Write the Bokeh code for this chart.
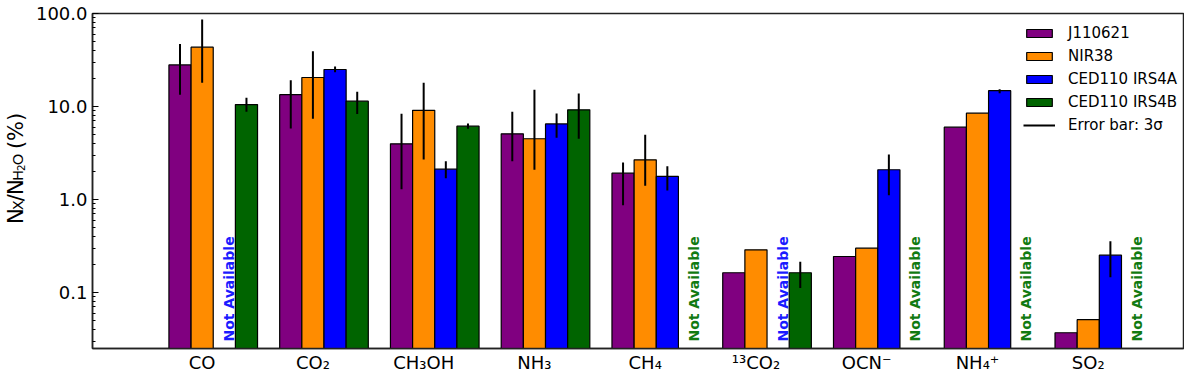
import math
from bokeh.plotting import figure
from bokeh.layouts import row
from bokeh.models import (FixedTicker, PrintfTickFormatter, Legend, LegendItem,
                          ColumnDataSource)
from bokeh.core.properties import value
from bokeh.embed import file_html
from bokeh.resources import INLINE

# ---------------- data ----------------
species = ["CO", "CO₂", "CH₃OH", "NH₃", "CH₄", "¹³CO₂", "OCN⁻", "NH₄⁺", "SO₂"]
sources = ["J110621", "NIR38", "CED110 IRS4A", "CED110 IRS4B"]
colors = ["#800080", "#FF8C00", "#0000FF", "#006400"]

j110621 = [28.0, 13.4, 3.97, 5.09, 1.92, 0.163, 0.244, 6.0, 0.0369]
nir38 = [43.4, 20.5, 9.1, 4.5, 2.67, 0.288, 0.30, 8.47, 0.051]
irs4a = [None, 25.0, 2.12, 6.5, 1.77, None, 2.09, 14.8, 0.252]
irs4b = [10.5, 11.4, 6.14, 9.2, None, 0.163, None, None, None]

# 3-sigma error bar limits (lower, upper)
j110621_lo = [13.4, 5.8, 1.29, 2.58, 0.87, None, None, None, None]
j110621_hi = [47.0, 19.2, 8.35, 8.77, 2.5, None, None, None, None]
nir38_lo = [18.0, 7.4, 2.69, 2.09, 1.41, None, None, None, None]
nir38_hi = [86.0, 39.3, 18.0, 15.1, 4.96, None, None, None, None]
irs4a_lo = [None, 23.4, 1.69, 4.6, 1.25, None, 1.11, 13.9, 0.146]
irs4a_hi = [None, 26.9, 2.58, 8.4, 2.28, None, 3.05, 15.3, 0.356]
irs4b_lo = [8.8, 8.3, 5.75, 4.5, None, 0.112, None, None, None]
irs4b_hi = [12.4, 14.4, 6.56, 13.8, None, 0.214, None, None, None]

values = [j110621, nir38, irs4a, irs4b]
err_lo = [j110621_lo, nir38_lo, irs4a_lo, irs4b_lo]
err_hi = [j110621_hi, nir38_hi, irs4a_hi, irs4b_hi]

# "Not Available" markers: (species index, source index)
not_available = [(0, 2), (4, 3), (5, 2), (6, 3), (7, 3), (8, 3)]
na_colors = {2: "#1a1aff", 3: "#117a11"}

bar_w = 0.2
FONT = "DejaVu Sans"
H = 377
OFF = 8      # page margin
LW = 32      # width of the y-label panel
MW = 1184 - LW

p = figure(width=MW, height=H, y_axis_type="log",
           x_range=(-0.99, 8.86), y_range=(0.025, 100),
           output_backend="svg", toolbar_location=None,
           min_border_left=92 - OFF - LW, min_border_right=1,
           min_border_top=13, min_border_bottom=29)
p.grid.visible = False
p.outline_line_color = "#222222"
p.outline_line_width = 1.5
p.background_fill_color = "white"
p.border_fill_color = "white"

legend_items = []
err_renderer = None
for s in range(4):
    xs, tops, exs, elo, ehi = [], [], [], [], []
    for i, v in enumerate(values[s]):
        if v is None:
            continue
        x = i + (s - 1) * bar_w
        xs.append(x)
        tops.append(v)
        if err_lo[s][i] is not None:
            exs.append(x)
            elo.append(err_lo[s][i])
            ehi.append(err_hi[s][i])
    src = ColumnDataSource(dict(x=xs, top=tops))
    r = p.vbar(x="x", top="top", bottom=1e-4, width=bar_w, source=src,
               fill_color=colors[s], line_color="black", line_width=1.2)
    legend_items.append(LegendItem(label=sources[s], renderers=[r]))
    if exs:
        err_renderer = p.segment(x0=exs, x1=exs, y0=elo, y1=ehi,
                                 line_color="black", line_width=2)

legend_items.append(LegendItem(label="Error bar: 3σ", renderers=[err_renderer], index=0))

# Not available texts
na_x = [i + (s - 1) * bar_w + 0.04 for i, s in not_available]
na_y = [0.0297 for _ in not_available]
na_c = [na_colors[s] for i, s in not_available]
p.text(x=na_x, y=na_y, text=["Not Available"] * len(na_x), angle=math.pi / 2,
       text_align="left", text_baseline="middle", text_color=na_c,
       text_font=value(FONT), text_font_style="bold", text_font_size="14px")

# axes
xa = p.xaxis[0]
xa.ticker = FixedTicker(ticks=list(range(len(species))))
xa.major_label_overrides = {i: lab for i, lab in enumerate(species)}
xa.major_tick_in = 0
xa.major_tick_out = 0
xa.minor_tick_in = 0
xa.minor_tick_out = 0
xa.major_label_standoff = 3
xa.major_label_text_font = FONT
xa.major_label_text_font_size = "18px"
xa.major_label_text_color = "black"
xa.axis_line_color = "#222222"
xa.axis_line_width = 1.5

minor = []
for d in [0.01, 0.1, 1, 10]:
    for k in range(2, 10):
        if 0.025 <= d * k <= 100:
            minor.append(d * k)
ya = p.yaxis[0]
ya.ticker = FixedTicker(ticks=[0.1, 1, 10, 100], minor_ticks=minor)
ya.formatter = PrintfTickFormatter(format="%.1f")
ya.major_tick_in = 6
ya.major_tick_out = 0
ya.minor_tick_in = 3
ya.minor_tick_out = 0
ya.major_label_standoff = 5
ya.major_label_text_font = FONT
ya.major_label_text_font_size = "18px"
ya.major_label_text_color = "black"
ya.axis_line_color = "#222222"
ya.axis_line_width = 1.5

legend = Legend(items=legend_items, location=(931, 214))
legend.padding = 0
legend.margin = 0
legend.border_line_color = None
legend.background_fill_alpha = 0
legend.glyph_width = 32
legend.glyph_height = 10
legend.label_height = 18
legend.spacing = 5
legend.label_standoff = 13
legend.label_text_font = FONT
legend.label_text_font_size = "15px"
legend.label_text_color = "black"
p.add_layout(legend, "center")

# ---- y-axis label panel: N_X / N_{H2O} (%) built from text pieces ----
lab = figure(width=LW, height=H, x_range=(0, LW), y_range=(0, H),
             output_backend="svg", toolbar_location=None,
             min_border=0, min_border_left=0, min_border_right=0,
             min_border_top=0, min_border_bottom=0)
lab.axis.visible = False
lab.grid.visible = False
lab.outline_line_color = None
lab.border_fill_color = "white"
lab.background_fill_color = "white"

adv = {"N": 0.748, "X": 0.685, "/": 0.337, "H": 0.752, "2": 0.636, "O": 0.787,
       " ": 0.318, "(": 0.390, "%": 0.950, ")": 0.390}
main = 21.0
sub = main * 0.7
subsub = sub * 0.7
# (text, font size, baseline drop, extra gap before)
pieces = [("N", main, 0, 0), ("X", sub, 2, 0), ("/", main, 0, 0), ("N", main, 0, 0),
          ("H", sub, 2, 0), ("2", subsub, 5, 0), ("O", sub, 2, 0),
          ("(%)", main, 0, adv[" "] * main)]
base_x = 23 - OFF
u = 0.0
for txt, size, shift, gap in pieces:
    u += gap
    lab.text(x=[base_x + shift], y=[H - 237 + u], text=[txt], angle=math.pi / 2,
             text_align="left", text_baseline="alphabetic",
             text_font=value(FONT), text_font_size=f"{size:.1f}px",
             text_color="black")
    u += sum(adv[c] for c in txt) * size

layout = row(lab, p)
open("out.html", "w").write(file_html(layout, INLINE))
